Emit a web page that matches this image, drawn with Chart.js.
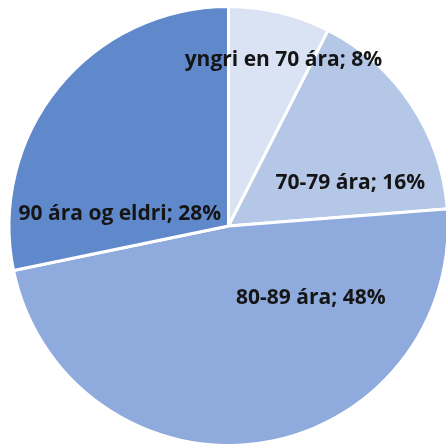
<!DOCTYPE html>
<html>
<head>
<meta charset="utf-8">
<script src="https://cdn.jsdelivr.net/npm/chart.js@4/dist/chart.umd.min.js"></script>
<style>
html,body{margin:0;padding:0;background:#fff;}
#wrap{width:446px;height:444px;position:relative;}
</style>
</head>
<body>
<div id="wrap"><canvas id="myChart"></canvas></div>
<script>
// aldurshopar og hlutfall (labels are rounded)
var labels=['yngri en 70 ára','70-79 ára','80-89 ára','90 ára og eldri'];
var values=[7.5,16.25,48,28.25];
var colors=['#dae3f3','#b4c7e7','#8faadc','#6089cb'];

// where each label sits, as fraction of the radius from the centre (x,y)
var labelpos=[[0.25,-0.755],[0.555,-0.198],[0.375,0.33],[-0.495,-0.055]];

var pieLabels={
	id:'pieLabels',
	afterDatasetsDraw:function(chart){
		var ctx=chart.ctx;
		var meta=chart.getDatasetMeta(0);
		ctx.save();
		ctx.font='bold 21px "Open Sans", sans-serif';
		ctx.fillStyle='#151515';
		ctx.textAlign='center';
		ctx.textBaseline='middle';
		for(var i=0;i<meta.data.length;i++){
			var arc=meta.data[i];
			var r=arc.outerRadius;
			var x=arc.x+labelpos[i][0]*r;
			var y=arc.y+labelpos[i][1]*r;
			ctx.fillText(labels[i]+'; '+Math.round(values[i])+'%',x,y);
		}
		ctx.restore();
	}
};

var ctx=document.getElementById('myChart').getContext('2d');
var myChart=new Chart(ctx,{
	type:'pie',
	data:{
		labels:labels,
		datasets:[{
			data:values,
			backgroundColor:colors,
			borderColor:'#ffffff',
			borderWidth:3
		}]
	},
	options:{
		responsive:true,
		maintainAspectRatio:false,
		animation:false,
		radius:219.5,
		layout:{padding:{left:11,right:0,top:8,bottom:0}},
		plugins:{
			legend:{display:false},
			tooltip:{enabled:false}
		}
	},
	plugins:[pieLabels]
});
</script>
</body>
</html>
